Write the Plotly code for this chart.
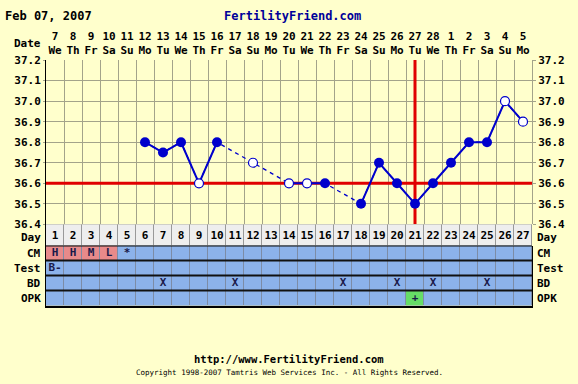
import plotly.graph_objects as go

W, H = 578, 384

# ---------------- data ----------------
chart_title = "Feb 07, 2007"
site_name = "FertilityFriend.com"
cycle_days = list(range(1, 28))
date_labels = [7, 8, 9, 10, 11, 12, 13, 14, 15, 16, 17, 18, 19, 20, 21, 22, 23, 24, 25, 26, 27, 28, 1, 2, 3, 4, 5]
weekday_labels = ["We", "Th", "Fr", "Sa", "Su", "Mo", "Tu", "We", "Th", "Fr", "Sa", "Su", "Mo", "Tu",
                  "We", "Th", "Fr", "Sa", "Su", "Mo", "Tu", "We", "Th", "Fr", "Sa", "Su", "Mo"]
temps = [None, None, None, None, None,
         36.8, 36.75, 36.8, 36.6, 36.8, None, 36.7, None, 36.6, 36.6, 36.6, None,
         36.5, 36.7, 36.6, 36.5, 36.6, 36.7, 36.8, 36.8, 37.0, 36.9]
open_days = [9, 12, 14, 15, 26, 27]
coverline = 36.6
ovulation_day = 21
temp_ticks = [36.4, 36.5, 36.6, 36.7, 36.8, 36.9, 37.0, 37.1, 37.2]

row_names = ["CM", "Test", "BD", "OPK"]
cm_values = {1: "H", 2: "H", 3: "M", 4: "L", 5: "*"}
test_values = {1: "B-"}
bd_days = [7, 11, 17, 20, 22, 25]
opk_values = {21: "+"}

# ---------------- style ----------------
BG = "#ffffcc"
GRID = "#a3a38a"
BLUE = "#0000cc"
RED = "#e00000"
FONT = "DejaVu Sans Mono"

def px_y(p):
    return 1 - p / H

def px_x(p):
    return p / W

x_dom = [px_x(46), px_x(532)]
temp_dom = [px_y(226), px_y(56)]
day_dom = [px_y(248), px_y(226)]
rec_dom = [px_y(310), px_y(248)]

x_lo = cycle_days[0] - 0.5
x_hi = cycle_days[-1] + 0.5

fig = go.Figure()

# coverline and ovulation line (drawn under the temperature marks)
fig.add_trace(go.Scatter(x=[x_lo, x_hi], y=[coverline, coverline], mode="lines",
                         line=dict(color=RED, width=3), hoverinfo="skip", showlegend=False))
fig.add_trace(go.Scatter(x=[ovulation_day, ovulation_day], y=[temp_ticks[0], temp_ticks[-1]],
                         mode="lines", line=dict(color=RED, width=3), hoverinfo="skip",
                         showlegend=False))
# dashed line across gaps
fig.add_trace(go.Scatter(x=cycle_days, y=temps, mode="lines", connectgaps=True,
                         line=dict(color=BLUE, width=1.3, dash="4px,4px"),
                         hoverinfo="skip", showlegend=False))
# solid line between consecutive days
fig.add_trace(go.Scatter(x=cycle_days, y=temps, mode="lines", connectgaps=False,
                         line=dict(color=BLUE, width=2),
                         hoverinfo="skip", showlegend=False))
filled_x = [d for d, t in zip(cycle_days, temps) if t is not None and d not in open_days]
filled_y = [t for d, t in zip(cycle_days, temps) if t is not None and d not in open_days]
open_x = [d for d, t in zip(cycle_days, temps) if t is not None and d in open_days]
open_y = [t for d, t in zip(cycle_days, temps) if t is not None and d in open_days]
fig.add_trace(go.Scatter(x=filled_x, y=filled_y, mode="markers",
                         marker=dict(color=BLUE, size=10, line=dict(color=BLUE, width=0)),
                         showlegend=False))
fig.add_trace(go.Scatter(x=open_x, y=open_y, mode="markers",
                         marker=dict(color="#ffffff", size=9, line=dict(color=BLUE, width=1.2)),
                         showlegend=False))
# invisible trace so right-hand temperature axis draws
fig.add_trace(go.Scatter(x=filled_x, y=filled_y, yaxis="y4", mode="markers",
                         marker=dict(opacity=0), hoverinfo="skip", showlegend=False))

# Day row
fig.add_trace(go.Heatmap(x=cycle_days, y=["Day"], z=[[0] * len(cycle_days)],
                         text=[[str(d) for d in cycle_days]], texttemplate="%{text}",
                         textfont=dict(family=FONT, size=11, color="#000000", weight="bold"),
                         colorscale=[[0, "#eeeeee"], [1, "#eeeeee"]], showscale=False,
                         xgap=1, ygap=0, xaxis="x2", yaxis="y2", hoverinfo="skip"))

# record rows
z_rows, t_rows = [], []
for r in row_names:
    zr, tr = [], []
    for d in cycle_days:
        if r == "CM":
            v = cm_values.get(d, "")
            zr.append(1 if v in ("H", "M", "L") else 0)
            tr.append(v)
        elif r == "Test":
            zr.append(0)
            tr.append(test_values.get(d, ""))
        elif r == "BD":
            zr.append(0)
            tr.append("X" if d in bd_days else "")
        else:
            v = opk_values.get(d, "")
            zr.append(2 if v == "+" else 0)
            tr.append(v)
    z_rows.append(zr)
    t_rows.append(tr)

n_rows = len(row_names)
row_idx = list(range(n_rows))
fig.add_trace(go.Heatmap(x=cycle_days, y=row_idx, z=z_rows, text=t_rows, texttemplate="%{text}",
                         textfont=dict(family=FONT, size=11, color="#1a1a4a", weight="bold"),
                         colorscale=[[0, "#8cb2ea"], [0.333, "#8cb2ea"], [0.334, "#e88a8a"],
                                     [0.666, "#e88a8a"], [0.667, "#66dd66"], [1, "#66dd66"]],
                         zmin=0, zmax=2, showscale=False, xgap=1, ygap=0,
                         xaxis="x3", yaxis="y3", hoverinfo="skip"))

tick_font = dict(family=FONT, size=11, color="#000000", weight="bold")

fig.update_layout(
    width=W, height=H, autosize=False,
    margin=dict(l=0, r=0, t=0, b=0),
    paper_bgcolor=BG, plot_bgcolor=BG,
    showlegend=False,
    xaxis=dict(domain=x_dom, range=[x_lo, x_hi], side="top", anchor="y",
               tickmode="array", tickvals=cycle_days,
               ticktext=[f"{d}<br>{w}" for d, w in zip(date_labels, weekday_labels)],
               ticks="", tickfont=tick_font, ticklabelstandoff=3,
               showgrid=False, zeroline=False, showline=False,
               minor=dict(tick0=0.5, dtick=1, showgrid=True, gridcolor=GRID, gridwidth=1, ticks="")),
    yaxis=dict(domain=temp_dom, range=[temp_ticks[0], temp_ticks[-1]], anchor="x", tickmode="array",
               tickvals=temp_ticks, ticktext=[f"{v:.1f}" for v in temp_ticks],
               tickfont=tick_font, showgrid=True, gridcolor=GRID, gridwidth=1, zeroline=False,
               showline=True, linecolor="#000000", linewidth=1, ticks="outside", ticklen=2,
               tickcolor=GRID),
    yaxis4=dict(overlaying="y", side="right", range=[temp_ticks[0], temp_ticks[-1]], anchor="x",
                tickmode="array", tickvals=temp_ticks, ticktext=[f"{v:.1f}" for v in temp_ticks],
                tickfont=tick_font, showgrid=False, zeroline=False, showline=True,
                linecolor=GRID, ticks="outside", ticklen=3, tickcolor=GRID),
    xaxis2=dict(domain=x_dom, range=[x_lo, x_hi], anchor="y2", showticklabels=False,
                showgrid=False, zeroline=False, ticks=""),
    yaxis2=dict(domain=day_dom, anchor="x2", showticklabels=False, showgrid=False,
                zeroline=False, ticks="", showline=True, linecolor="#000000", linewidth=1),
    xaxis3=dict(domain=x_dom, range=[x_lo, x_hi], anchor="y3", showticklabels=False,
                showgrid=False, zeroline=False, ticks="", showline=True, linecolor="#000000",
                linewidth=2),
    yaxis3=dict(domain=rec_dom, anchor="x3", showticklabels=False, showgrid=False,
                zeroline=False, ticks="", range=[n_rows - 0.5, -0.5], showline=True,
                linecolor="#000000", linewidth=1, mirror=True),
)

shapes = []
shapes.append(dict(type="rect", xref="x2 domain", yref="y2 domain", x0=0, x1=1, y0=0, y1=1,
                   fillcolor="#999999", line=dict(width=0), layer="below"))
shapes.append(dict(type="rect", xref="x3 domain", yref="y3 domain", x0=0, x1=1, y0=0, y1=1,
                   fillcolor="#7d8ca6", line=dict(width=0), layer="below"))
for i in row_idx:
    shapes.append(dict(type="line", xref="x3 domain", yref="y3", x0=0, x1=1, y0=i - 0.5, y1=i - 0.5,
                       line=dict(color="#111111", width=2), layer="above"))
fig.update_layout(shapes=shapes)

ann = []
ann.append(dict(text=chart_title, x=px_x(3), y=px_y(10), xref="paper", yref="paper",
                xanchor="left", yanchor="middle", showarrow=False,
                font=dict(family=FONT, size=12, color="#000000", weight="bold")))
ann.append(dict(text=site_name, x=px_x(222), y=px_y(10), xref="paper", yref="paper",
                xanchor="left", yanchor="middle", showarrow=False,
                font=dict(family=FONT, size=12, color="#000099", weight="bold")))
ann.append(dict(text="Date", x=px_x(43), y=px_y(39), xref="paper", yref="paper",
                xanchor="right", yanchor="middle", showarrow=False, font=tick_font))
ann.append(dict(text="Day", x=px_x(43), y=0.4, xref="paper", yref="y2 domain",
                xanchor="right", yanchor="middle", showarrow=False, font=tick_font))
ann.append(dict(text="Day", x=px_x(535), y=0.4, xref="paper", yref="y2 domain",
                xanchor="left", yanchor="middle", showarrow=False, font=tick_font))
for i, r in zip(row_idx, row_names):
    ann.append(dict(text=r, x=px_x(43), y=i, xref="paper", yref="y3",
                    xanchor="right", yanchor="middle", showarrow=False, font=tick_font))
    ann.append(dict(text=r, x=px_x(535), y=i, xref="paper", yref="y3",
                    xanchor="left", yanchor="middle", showarrow=False, font=tick_font))
ann.append(dict(text="http://www.FertilityFriend.com", x=0.5, y=px_y(365), xref="paper", yref="paper",
                xanchor="center", yanchor="middle", showarrow=False,
                font=dict(family=FONT, size=10.5, color="#000000", weight="bold")))
ann.append(dict(text="Copyright 1998-2007 Tamtris Web Services Inc. - All Rights Reserved.",
                x=0.5, y=px_y(379), xref="paper", yref="paper",
                xanchor="center", yanchor="middle", showarrow=False,
                font=dict(family=FONT, size=7.5, color="#000000")))
fig.update_layout(annotations=ann)

fig.write_html("out.html", config={"displayModeBar": False},
               post_script="document.body.style.margin='0';")
